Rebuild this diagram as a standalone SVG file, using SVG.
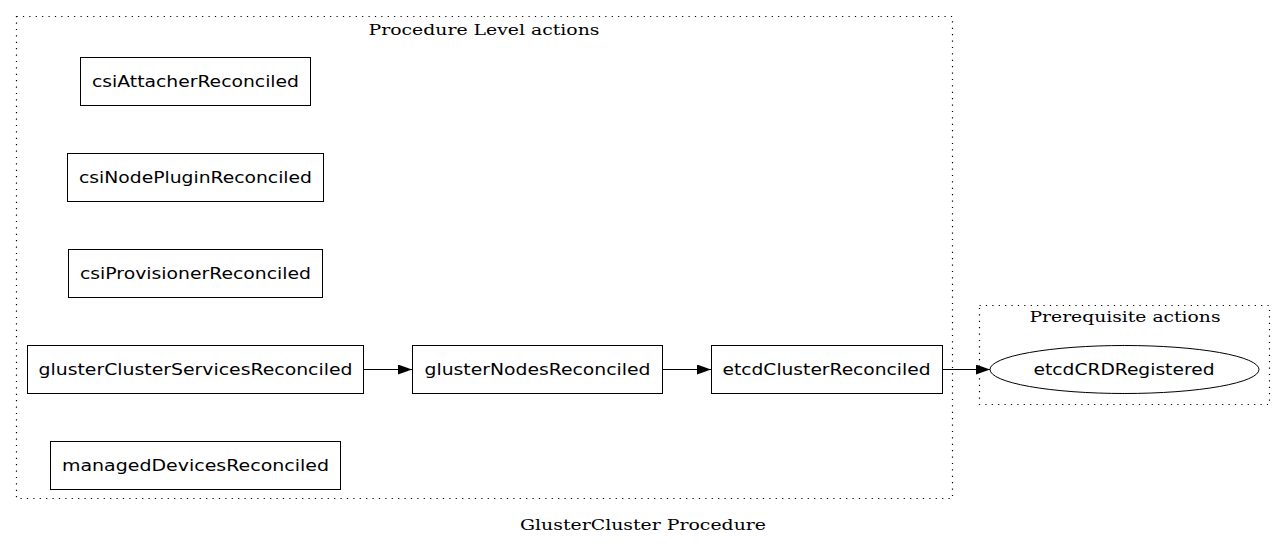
<svg xmlns="http://www.w3.org/2000/svg" width="1286" height="547" viewBox="0 0 1286 547">
<defs>
<style>
.cl{fill:none;stroke:#000;stroke-width:1.2;stroke-dasharray:1.2,5.2}
.nd{fill:#fff;stroke:#000;stroke-width:1}
.nt{font-family:"DejaVu Sans",sans-serif;font-size:16.5px;text-anchor:middle;fill:#000}
.ct{font-family:"DejaVu Serif",serif;font-size:15.5px;text-anchor:middle;fill:#000}
.ed{fill:none;stroke:#000;stroke-width:1}
</style>
<marker id="ah" viewBox="0 0 14 10" refX="14" refY="5" markerWidth="14" markerHeight="10" markerUnits="userSpaceOnUse" orient="auto">
<path d="M0,0 L14,5 L0,10 Z" fill="#000"/>
</marker>
</defs>
<rect width="1286" height="547" fill="#fff"/>
<g id="cluster_procedure">
<rect class="cl" x="16.5" y="16.5" width="936" height="482"/>
<text class="ct" x="484" y="35" textLength="231" lengthAdjust="spacingAndGlyphs">Procedure Level actions</text>
</g>
<g id="cluster_prereq">
<rect class="cl" x="979.5" y="305.5" width="290" height="99"/>
<text class="ct" x="1125" y="322" textLength="191" lengthAdjust="spacingAndGlyphs">Prerequisite actions</text>
</g>
<g id="connectors">
<line class="ed" x1="363" y1="369.5" x2="412" y2="369.5" marker-end="url(#ah)"/>
<line class="ed" x1="662" y1="369.5" x2="711" y2="369.5" marker-end="url(#ah)"/>
<line class="ed" x1="942" y1="369.5" x2="990" y2="369.5" marker-end="url(#ah)"/>
</g>
<g id="csiAttacherReconciled">
<rect class="nd" x="80.5" y="57.5" width="230" height="48"/>
<text class="nt" x="195.5" y="86.5" textLength="207" lengthAdjust="spacingAndGlyphs">csiAttacherReconciled</text>
</g>
<g id="csiNodePluginReconciled">
<rect class="nd" x="67.5" y="153.5" width="256" height="48"/>
<text class="nt" x="195.5" y="182.5" textLength="233" lengthAdjust="spacingAndGlyphs">csiNodePluginReconciled</text>
</g>
<g id="csiProvisionerReconciled">
<rect class="nd" x="68.5" y="249.5" width="254" height="48"/>
<text class="nt" x="195.5" y="278.5" textLength="231" lengthAdjust="spacingAndGlyphs">csiProvisionerReconciled</text>
</g>
<g id="glusterClusterServicesReconciled">
<rect class="nd" x="27.5" y="345.5" width="336" height="48"/>
<text class="nt" x="195.5" y="374.5" textLength="314" lengthAdjust="spacingAndGlyphs">glusterClusterServicesReconciled</text>
</g>
<g id="managedDevicesReconciled">
<rect class="nd" x="50.5" y="441.5" width="290" height="48"/>
<text class="nt" x="195.5" y="470.5" textLength="267" lengthAdjust="spacingAndGlyphs">managedDevicesReconciled</text>
</g>
<g id="glusterNodesReconciled">
<rect class="nd" x="412.5" y="345.5" width="250" height="48"/>
<text class="nt" x="537.5" y="374.5" textLength="226" lengthAdjust="spacingAndGlyphs">glusterNodesReconciled</text>
</g>
<g id="etcdClusterReconciled">
<rect class="nd" x="711.5" y="345.5" width="231" height="48"/>
<text class="nt" x="826.5" y="374.5" textLength="208" lengthAdjust="spacingAndGlyphs">etcdClusterReconciled</text>
</g>
<g id="etcdCRDRegistered">
<ellipse class="nd" cx="1124.5" cy="369.5" rx="134.5" ry="24"/>
<text class="nt" x="1124" y="374.5" textLength="181" lengthAdjust="spacingAndGlyphs">etcdCRDRegistered</text>
</g>
<text class="ct" x="643" y="530" textLength="246" lengthAdjust="spacingAndGlyphs">GlusterCluster Procedure</text>
</svg>
